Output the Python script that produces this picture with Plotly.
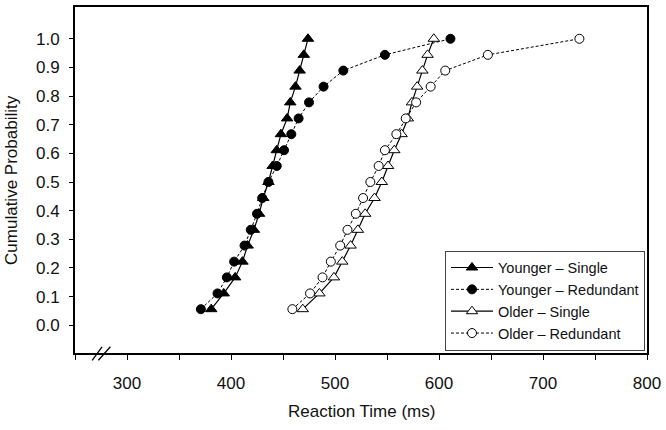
import plotly.graph_objects as go

# Cumulative probability levels (quantiles)
prob = [0.056, 0.111, 0.167, 0.222, 0.278, 0.333, 0.389, 0.444, 0.500,
        0.556, 0.611, 0.667, 0.722, 0.778, 0.833, 0.889, 0.944, 1.000]

younger_single = [381, 393, 404, 411, 416, 422, 427, 431, 436,
                  440, 444, 448, 454, 457, 462, 466, 470, 474]
younger_redundant = [371, 387, 396, 403, 413, 419, 425, 430, 436,
                     444, 451, 458, 465, 475, 489, 508, 548, 611]
older_single = [469, 485, 499, 507, 515, 522, 529, 538, 545,
                551, 557, 564, 570, 574, 579, 584, 589, 595]
older_redundant = [459, 476, 488, 496, 505, 512, 520, 527, 534,
                   542, 548, 559, 568, 578, 592, 606, 647, 735]

x_tickvals = [250, 300, 350, 400, 450, 500, 550, 600, 650, 700, 750, 800]
x_ticktext = ["", "300", "", "400", "", "500", "", "600", "", "700", "", "800"]
y_tickvals = [0.0, 0.1, 0.2, 0.3, 0.4, 0.5, 0.6, 0.7, 0.8, 0.9, 1.0]

FONT = "Arial, Liberation Sans, Helvetica, sans-serif"

fig = go.Figure()

fig.add_trace(go.Scatter(
    x=younger_single, y=prob, name="Younger \u2013 Single", mode="lines+markers",
    line=dict(color="black", width=1.2),
    marker=dict(symbol="triangle-up", size=10, color="black", line=dict(color="black", width=1))))
fig.add_trace(go.Scatter(
    x=younger_redundant, y=prob, name="Younger \u2013 Redundant", mode="lines+markers",
    line=dict(color="black", width=1, dash="3px,2px"),
    marker=dict(symbol="circle", size=9, color="black", line=dict(color="black", width=1))))
fig.add_trace(go.Scatter(
    x=older_single, y=prob, name="Older \u2013 Single", mode="lines+markers",
    line=dict(color="black", width=1.2),
    marker=dict(symbol="triangle-up", size=10, color="white", line=dict(color="black", width=1))))
fig.add_trace(go.Scatter(
    x=older_redundant, y=prob, name="Older \u2013 Redundant", mode="lines+markers",
    line=dict(color="black", width=1, dash="3px,2px"),
    marker=dict(symbol="circle", size=9, color="white", line=dict(color="black", width=1))))

# axis break marks "//"
for x0, x1 in [(266.5, 276.0), (272.5, 284.0)]:
    fig.add_shape(type="line", xref="x", yref="paper", x0=x0, x1=x1, y0=-0.021, y1=0.018,
                  line=dict(color="black", width=1.3))

fig.update_layout(
    width=666, height=430,
    margin=dict(l=75, r=18, t=5, b=77),
    paper_bgcolor="white", plot_bgcolor="white",
    font=dict(family=FONT, size=17, color="#111"),
    showlegend=True,
    legend=dict(x=0.9965, y=0.296, xanchor="right", yanchor="top",
                bordercolor="#444", borderwidth=1, bgcolor="white",
                font=dict(size=14.5), itemwidth=42, tracegroupgap=0),
    xaxis=dict(range=[250, 800], tickvals=x_tickvals, ticktext=x_ticktext,
               ticks="outside", ticklen=5, tickwidth=1, tickcolor="black",
               showline=True, linecolor="black", linewidth=1.8, mirror=True,
               showgrid=False, zeroline=False, ticklabelstandoff=9,
               tickfont=dict(size=17)),
    yaxis=dict(range=[-0.097, 1.111], tickvals=y_tickvals, tickformat=".1f",
               ticks="outside", ticklen=4, tickwidth=1, tickcolor="black",
               showline=True, linecolor="black", linewidth=1.8, mirror=True,
               showgrid=False, zeroline=False, ticklabelstandoff=6,
               tickfont=dict(size=17)),
    annotations=[
        dict(text="Reaction Time (ms)", xref="paper", yref="paper", x=0.5, y=-0.1695,
             xanchor="center", yanchor="middle", showarrow=False, font=dict(size=17)),
        dict(text="Cumulative Probability", xref="paper", yref="paper", x=-0.112, y=0.5,
             xanchor="center", yanchor="middle", textangle=-90, showarrow=False,
             font=dict(size=17)),
    ],
)

fig.write_html("out.html", config={"displayModeBar": False},
               post_script="document.body.style.margin='0';")
